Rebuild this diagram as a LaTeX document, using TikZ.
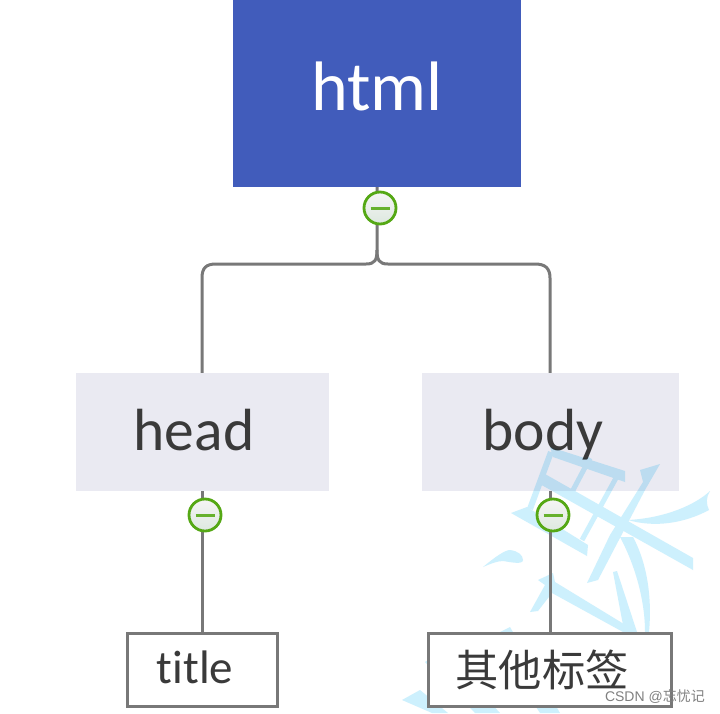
\documentclass[tikz,border=0pt]{standalone}
\usepackage{fontspec}
\setmainfont[Ligatures=NoCommon]{Carlito}
\newfontfamily\arialish{Liberation Sans}
\newfontfamily\cjk{Noto Sans CJK SC}
\usetikzlibrary{shadings}
\definecolor{htmlblue}{HTML}{415CBB}
\definecolor{subgrey}{HTML}{EAEAF2}
\definecolor{linegrey}{HTML}{787878}
\definecolor{inkdark}{HTML}{3A3A3A}
\definecolor{wm}{HTML}{CDF0FD}
\definecolor{okgreen}{HTML}{55A815}
\definecolor{okfill}{HTML}{DDE8DF}
\newcommand{\shifttext}[3]{\hspace*{#1}\smash{\raisebox{#2}{#3}}}
\tikzset{
  x=1pt,y=-1pt,
  conn/.style={draw=linegrey,line width=3pt},
  rootbox/.style={fill=htmlblue,text=white,inner sep=0pt,font=\fontsize{70}{70}\selectfont},
  subbox/.style={fill=subgrey,text=inkdark,inner sep=0pt,font=\fontsize{59.5}{60}\selectfont},
  leafbox/.style={draw=linegrey,line width=3pt,fill=white,text=inkdark,inner sep=0pt,font=\fontsize{47}{47}\selectfont},
  toggle/.style={circle,draw=okgreen,line width=2.8pt,top color=white!96!black,bottom color=okfill,minimum size=32pt,inner sep=0pt},
  bar/.style={draw=okgreen!90!white,line width=3pt},
  wmfill/.style={fill=wm,draw=none},
  wmline/.style={draw=wm},
}
\begin{document}
\begin{tikzpicture}
\useasboundingbox (0,0) rectangle (720,713);
\fill[white] (0,0) rectangle (720,713);
% boxes
\node[rootbox,minimum width=288pt,minimum height=187pt] (html) at (377,93.5) {\shifttext{0pt}{-16.5pt}{html}};
\node[subbox,minimum width=253pt,minimum height=118pt] (head) at (202,432) {\shifttext{-16pt}{-18pt}{head}};
\node[subbox,minimum width=257pt,minimum height=118pt] (body) at (550,432) {\shifttext{-14pt}{-18pt}{body}};
% watermark
\begin{scope}[transparency group,blend mode=multiply]
\fill[wmfill] (511,513) -- (527,507) -- (588,545) -- (587,556) -- cycle;
\fill[wmfill] (538,483) -- (545,474) -- (693,558) -- (693,570) -- cycle;
\fill[wmfill] (550,447) -- (625,471) -- (625,482) -- (553,457) -- cycle;
\draw[wmline,line width=6pt] (530,509) -- (551,452);
\draw[wmline,line width=5pt] (572,492) -- (590,458);
\draw[wmline,line width=5pt] (582,540) -- (616,478);
\fill[wmfill] (640,470) -- (660,464) -- (645,490) -- (598,580) -- (587,583) -- (610,535) -- (643,482) -- cycle;
\fill[wmfill] (628,520) .. controls (665,518) and (695,505) .. (710,491) .. controls (706,497) and (706,504) .. (709,510) .. controls (685,523) and (655,528) .. (628,520) -- cycle;
\fill[wmfill] (633,537) .. controls (648,565) and (652,600) .. (649,632) -- (645,632) .. controls (645,600) and (635,565) .. (620,537) -- cycle;
\fill[wmfill] (483,567) .. controls (495,557) and (505,550) .. (510,550) .. controls (518,551) and (523,555) .. (523,560) .. controls (523,565) and (510,562) .. (503,561) .. controls (497,561) and (490,564) .. (483,567) -- cycle;
\fill[wmfill] (538,580) -- (553,573) -- (555,582) -- (637,632) -- (623,632) -- (552,593) -- (538,611) -- (530,612) -- (545,585) -- cycle;
\fill[wmfill] (613,572) -- (617,571) -- (637,632) -- (623,625) -- cycle;
\fill[wmfill] (402,700) -- (420,690) -- (448,713) -- (432,713) -- cycle;
\fill[wmfill] (425,662) -- (442,650) -- (500,713) -- (475,713) -- cycle;
\fill[wmfill] (490,637) -- (510,627) -- (560,713) -- (540,713) -- cycle;
\end{scope}
% leaves
\node[leafbox,minimum width=150pt,minimum height=73pt] (title) at (202,670) {\shifttext{-14pt}{-13pt}{title}};
\node[leafbox,minimum width=243pt,minimum height=73pt] (other) at (550,670) {\shifttext{-16pt}{-16.5pt}{\cjk\fontsize{43.3}{43.3}\selectfont 其他标签}};
% connectors
\draw[conn] (html.south) -- (377,250) .. controls (377,260) and (375,264) .. (366,264) -- (216,264) .. controls (206,264) and (202,268) .. (202,278) -- (head.north);
\draw[conn] (377,250) .. controls (377,260) and (379,264) .. (388,264) -- (535,264) .. controls (545,264) and (550,268) .. (550,278) -- (body.north);
\draw[conn] (head.south) -- (title.north);
\draw[conn] (body.south) -- (other.north);
% toggles
\node[toggle] (t1) at (380,208) {};
\node[toggle] (t2) at (205,515) {};
\node[toggle] (t3) at (553,515) {};
\foreach \t in {t1,t2,t3} \draw[bar] ([xshift=-9.5pt]\t.center) -- ([xshift=9.5pt]\t.center);
\node[text=black!50,font=\arialish\fontsize{14}{14}\selectfont,inner sep=0pt,anchor=east] (mark) at (705,697) {CSDN @{\cjk 忘忧记}};
\end{tikzpicture}
\end{document}
